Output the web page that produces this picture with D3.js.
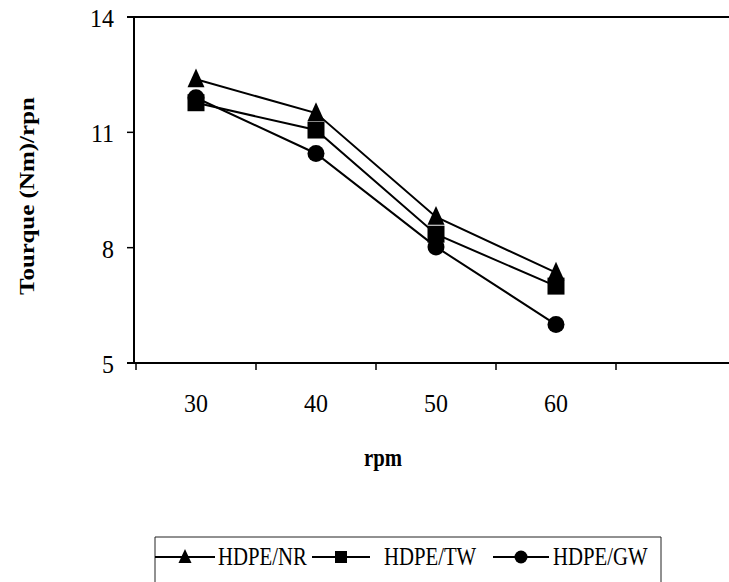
<!DOCTYPE html>
<html>
<head>
<meta charset="utf-8">
<script src="https://cdn.jsdelivr.net/npm/d3@7"></script>
<style>
  html, body { margin: 0; padding: 0; background: #fff; }
  svg { display: block; }
</style>
</head>
<body>
<svg id="chart" width="729" height="582"></svg>
<script>
// Torque per rpm for three HDPE composites at four rotor speeds
const categories = ["30", "40", "50", "60", ""];
const seriesNames = ["HDPE/NR", "HDPE/TW", "HDPE/GW"];
const nrValues = [12.38, 11.5, 8.8, 7.35];
const twValues = [11.77, 11.06, 8.35, 7.0];
const gwValues = [11.9, 10.45, 8.02, 6.0];
const yTicks = [5, 8, 11, 14];

const svg = d3.select("#chart");
const FONT = "'Liberation Serif', 'Times New Roman', serif";
const SQUEEZE = 0.83;      // horizontal narrowing of title / legend glyphs
const TICK_SQUEEZE = 0.92; // tick labels are a little wider

const x = d3.scaleBand().domain(categories).range([136, 736]).padding(0);
const y = d3.scaleLinear().domain([5, 14]).range([363, 17]);

const plotLeft = 134, plotRight = 745, plotTop = y(14), plotBottom = y(5);

// plot frame
const frame = svg.append("g").attr("stroke", "#000").attr("stroke-width", 2).attr("fill", "none");
frame.append("line").attr("x1", plotLeft).attr("x2", plotLeft).attr("y1", plotTop).attr("y2", plotBottom);
frame.append("line").attr("x1", plotLeft - 7).attr("x2", plotRight).attr("y1", plotTop).attr("y2", plotTop);
frame.append("line").attr("x1", plotLeft - 7).attr("x2", plotRight).attr("y1", plotBottom).attr("y2", plotBottom);

// y ticks and labels
yTicks.forEach(v => {
  svg.append("line").attr("x1", plotLeft - 7).attr("x2", plotLeft)
    .attr("y1", y(v)).attr("y2", y(v)).attr("stroke", "#000").attr("stroke-width", 1.5);
  svg.append("text")
    .attr("transform", `translate(114,${y(v) + 10}) scale(${TICK_SQUEEZE},1)`)
    .attr("text-anchor", "end")
    .attr("font-family", FONT).attr("font-size", 26).attr("fill", "#000")
    .text(v);
});

// x ticks sit on the band edges, labels in the band centres
const edges = categories.map(c => x(c)).concat([x(categories[categories.length - 1]) + x.bandwidth()]);
edges.forEach(ex => {
  svg.append("line").attr("x1", ex).attr("x2", ex)
    .attr("y1", plotBottom).attr("y2", plotBottom + 7).attr("stroke", "#000").attr("stroke-width", 1.5);
});
categories.filter(c => c !== "").forEach(c => {
  svg.append("text")
    .attr("transform", `translate(${x(c) + x.bandwidth() / 2},412) scale(${TICK_SQUEEZE},1)`)
    .attr("text-anchor", "middle")
    .attr("font-family", FONT).attr("font-size", 26).attr("fill", "#000")
    .text(c);
});

// axis titles
svg.append("text")
  .attr("transform", `translate(383,466) scale(${SQUEEZE},1)`)
  .attr("text-anchor", "middle")
  .attr("font-family", FONT).attr("font-size", 25).attr("font-weight", "bold").attr("fill", "#000")
  .text("rpm");
svg.append("text")
  .attr("transform", `translate(34,196) scale(${SQUEEZE},1) rotate(-90)`)
  .attr("text-anchor", "middle")
  .attr("font-family", FONT).attr("font-size", 25).attr("font-weight", "bold").attr("fill", "#000")
  .text("Tourque (Nm)/rpn");

// marker shapes
function triangle(w, h) {
  return `M0,${-h * 0.58}L${w / 2},${h * 0.42}L${-w / 2},${h * 0.42}Z`;
}
function square(s) {
  return `M${-s / 2},${-s / 2}h${s}v${s}h${-s}Z`;
}
function circle(d) {
  const r = d / 2;
  return `M${r},0A${r},${r} 0 1,1 ${-r},0A${r},${r} 0 1,1 ${r},0Z`;
}

const series = [
  { name: seriesNames[2], values: gwValues, shape: s => circle(s) },
  { name: seriesNames[1], values: twValues, shape: s => square(s) },
  { name: seriesNames[0], values: nrValues, shape: s => triangle(s, s * 1.1) }
];

const cx = i => x(categories[i]) + x.bandwidth() / 2;
const line = d3.line().x((d, i) => cx(i)).y(d => y(d));

series.forEach(s => {
  svg.append("path").attr("d", line(s.values))
    .attr("fill", "none").attr("stroke", "#000").attr("stroke-width", 2);
});
series.forEach(s => {
  svg.append("g").selectAll("path").data(s.values).join("path")
    .attr("transform", (d, i) => `translate(${cx(i)},${y(d)})`)
    .attr("d", s.shape(17))
    .attr("fill", "#000");
});

// legend
const legend = svg.append("g");
legend.append("path")
  .attr("d", "M155,582V537H661V582")
  .attr("fill", "none").attr("stroke", "#222").attr("stroke-width", 1);
const items = [
  { name: seriesNames[0], x0: 155, x1: 215, shape: triangle(13, 14), tx: 218 },
  { name: seriesNames[1], x0: 312, x1: 370, shape: square(12), tx: 384 },
  { name: seriesNames[2], x0: 493, x1: 549, shape: circle(13), tx: 553 }
];
items.forEach(it => {
  legend.append("line").attr("x1", it.x0).attr("x2", it.x1)
    .attr("y1", 557).attr("y2", 557).attr("stroke", "#000").attr("stroke-width", 2);
  legend.append("path")
    .attr("transform", `translate(${(it.x0 + it.x1) / 2},557)`)
    .attr("d", it.shape).attr("fill", "#000");
  legend.append("text")
    .attr("transform", `translate(${it.tx},565) scale(${SQUEEZE},1)`)
    .attr("font-family", FONT).attr("font-size", 25).attr("fill", "#000")
    .text(it.name);
});
</script>
</body>
</html>
